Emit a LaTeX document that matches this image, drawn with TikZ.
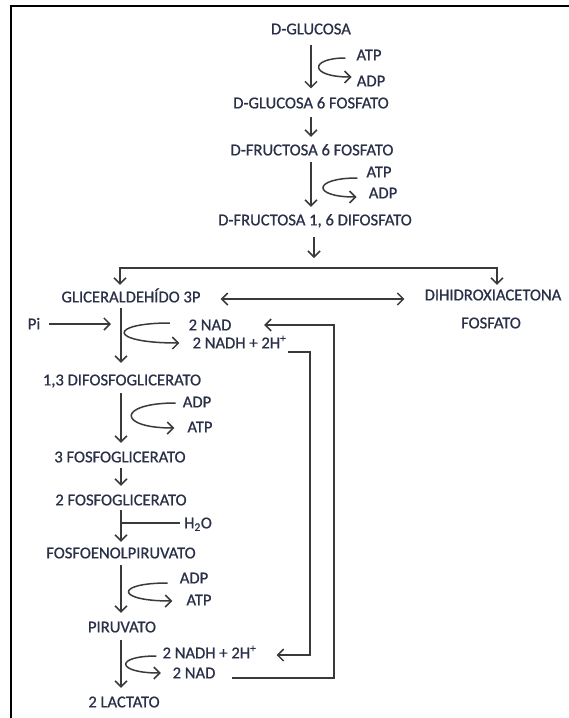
\documentclass[tikz,border=0pt]{standalone}
\usepackage{fontspec}
\setmainfont{Carlito}[FakeBold=0.8]
\usetikzlibrary{arrows.meta}
\definecolor{txt}{RGB}{42,48,72}
\definecolor{wire}{RGB}{58,58,58}
\begin{document}
\begin{tikzpicture}[x=1pt,y=-1pt,
  >={Straight Barb[length=6pt,width=12pt]},
  lbl/.style={text=txt, font=\fontsize{16.6}{19}\selectfont, inner sep=0pt,
              text height=10.7pt, text depth=0pt},
  link/.style={draw=wire, line width=1.5pt},
  arr/.style={link, ->}]
\useasboundingbox (0,0) rectangle (569,718);

% page frame (top and left edges)
\draw[line width=2pt, black] (11,718) -- (11,6) -- (569,6);

% column guides
\coordinate (colA) at (311,0);
\coordinate (colB) at (121,0);
\coordinate (loopA) at (310,0);
\coordinate (loopB) at (334,0);

% upper pathway
\node[lbl] (glc)  at (311,29)  {D-GLUCOSA};
\node[lbl] (atp1) at (369,55)  {ATP};
\node[lbl] (adp1) at (371,81)  {ADP};
\node[lbl] (g6p)  at (311,103) {D-GLUCOSA 6 FOSFATO};
\node[lbl] (f6p)  at (312,150) {D-FRUCTOSA 6 FOSFATO};
\node[lbl] (atp2) at (379,172) {ATP};
\node[lbl] (adp2) at (383,193) {ADP};
\node[lbl] (f16)  at (315,220) {D-FRUCTOSA 1, 6 DIFOSFATO};

% triose phosphates
\node[lbl] (gal)   at (131,297) {GLICERALDEHÍDO 3P};
\node[lbl] (dhap)  at (493,295) {DIHIDROXIACETONA};
\node[lbl] (dhapb) at (491,323) {FOSFATO};

% lower pathway
\node[lbl] (pi)    at (34,324)  {Pi};
\node[lbl] (nad1)  at (210,325) {2 NAD};
\node[lbl] (nadh1) at (239.5,343) {2 NADH + 2H\textsuperscript{+}};
\node[lbl] (dpg)   at (122,380) {1,3 DIFOSFOGLICERATO};
\node[lbl] (adp3)  at (197,402) {ADP};
\node[lbl] (atp3)  at (200,427) {ATP};
\node[lbl] (p3g)   at (120,457) {3 FOSFOGLICERATO};
\node[lbl] (p2g)   at (121,500) {2 FOSFOGLICERATO};
\node[lbl] (h2o)   at (198,523) {H\textsubscript{2}O};
\node[lbl] (pep)   at (121,553) {FOSFOENOLPIRUVATO};
\node[lbl] (adp4)  at (194,578) {ADP};
\node[lbl] (atp4)  at (199,600) {ATP};
\node[lbl] (pyr)   at (122,627) {PIRUVATO};
\node[lbl] (nadh2) at (209.5,653) {2 NADH + 2H\textsuperscript{+}};
\node[lbl] (nad2)  at (194,673) {2 NAD};
\node[lbl] (lac)   at (124,702) {2 LACTATO};

% main column arrows
\draw[arr, shorten <=10pt, shorten >=9pt]    (glc.south -| colA) -- (g6p.north -| colA);
\draw[arr, shorten <=8.7pt, shorten >=7.6pt] (g6p.south -| colA) -- (f6p.north -| colA);
\draw[arr, shorten <=6.7pt, shorten >=7.6pt] (f6p.south -| colA) -- (f16.north -| colA);

% cofactor loops, upper part
\draw[arr] ([shift={(-11,3)}]atp1.west) .. controls +(-36,0) and +(-43,0) .. ([shift={(-5,-4)}]adp1.west);
\draw[arr] ([shift={(-9,6)}]atp2.west) .. controls +(-45,0) and +(-45,0) .. ([shift={(-12,4)}]adp2.west);

% split into the two trioses
\coordinate (fork)  at (314,268);
\coordinate (forkL) at (120,268);
\coordinate (forkR) at (497,268);
\draw[arr, shorten <=11.6pt, shorten >=10pt] (f16.south -| fork) -- (fork);
\draw[link, <->, shorten <=6.6pt, shorten >=4.6pt]
  (gal.north -| forkL) -- (forkL) -- (forkR) -- (dhap.north -| forkR);
\draw[link, <->, shorten <=20pt, shorten >=20pt]
  ([yshift=-2pt]gal.east) -- ([yshift=-4pt]dhap.west);

% lower column arrows
\draw[arr, shorten <=9pt, shorten >=10pt] (pi.east) -- (pi.east -| colB);
\draw[arr, shorten <=5.6pt, shorten >=11.6pt] (gal.south -| colB) -- (dpg.north -| colB);
\draw[arr, shorten <=7.6pt, shorten >=8.6pt]  (dpg.south -| colB) -- (p3g.north -| colB);
\draw[arr, shorten <=5.6pt, shorten >=8.6pt]  (p3g.south -| colB) -- (p2g.north -| colB);
\draw[arr, shorten <=4.6pt, shorten >=5.6pt]  (p2g.south -| colB) -- (pep.north -| colB);
\draw[link] (colB |- h2o) -- ([xshift=-4pt]h2o.west);
\draw[arr, shorten <=6.6pt, shorten >=8.6pt]  (pep.south -| colB) -- (pyr.north -| colB);
\draw[arr, shorten <=7.6pt, shorten >=8.6pt]  (pyr.south -| colB) -- (lac.north -| colB);

% cofactor loops, lower part
\draw[arr] ([shift={(-18.5,-2)}]nad1.west) .. controls +(-62,0) and +(-72,0) .. ([shift={(-13,0)}]nadh1.west);
\draw[arr] ([shift={(-7,1)}]adp3.west) .. controls +(-58.5,0) and +(-57.5,0) .. ([shift={(-13,1)}]atp3.west);
\draw[arr] ([shift={(-12,5)}]adp4.west) .. controls +(-53,0) and +(-57,0) .. ([shift={(-14,1)}]atp4.west);
\draw[arr] ([shift={(-6,3)}]nadh2.west) .. controls +(-42,0) and +(-45,0) .. ([shift={(-11.6,0)}]nad2.west);

% NADH / NAD recycling between the two redox steps
\coordinate (nadhOut) at ([shift={(1,9)}]nadh1.east);
\coordinate (nadhIn)  at ([shift={(20,2)}]nadh2.east);
\draw[arr] (nadhOut) -| (loopA |- nadhIn) -- (nadhIn);
\coordinate (nadOut) at ([shift={(16.6,5)}]nad2.east);
\coordinate (nadIn)  at ([shift={(32.6,0)}]nad1.east);
\draw[arr] (nadOut) -| (loopB |- nadIn) -- (nadIn);
\end{tikzpicture}
\end{document}
